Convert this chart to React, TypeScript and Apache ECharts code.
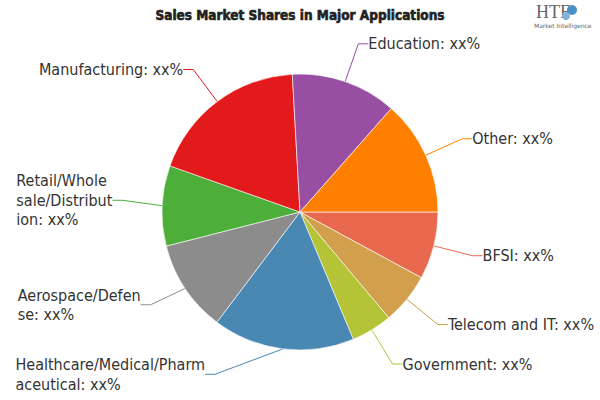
import React, { useEffect, useRef } from "react";
import * as echarts from "echarts";

const categories = [
  "BFSI",
  "Telecom and IT",
  "Government",
  "Healthcare/Medical/Pharmaceutical",
  "Aerospace/Defense",
  "Retail/Wholesale/Distribution",
  "Manufacturing",
  "Education",
  "Other",
];
const shares = [7.9, 6.0, 4.8, 16.6, 10.75, 9.4, 18.7, 12.4, 13.5];
const labelTexts = [
  "BFSI: xx%",
  "Telecom and IT: xx%",
  "Government: xx%",
  "Healthcare/Medical/Pharm\naceutical: xx%",
  "Aerospace/Defen\nse: xx%",
  "Retail/Whole\nsale/Distribut\nion: xx%",
  "Manufacturing: xx%",
  "Education: xx%",
  "Other: xx%",
];
const colors = [
  "#e8694d",
  "#d2a04c",
  "#b5c436",
  "#4a88b4",
  "#8c8c8c",
  "#4daf3a",
  "#e31a1c",
  "#984ea3",
  "#ff7f00",
];
const titleText = "Sales Market Shares in Major Applications";

const labelFont = "'DejaVu Sans Condensed', 'DejaVu Sans', sans-serif";

const CX = 300;
const CY = 212;
const R = 138;
const LEN = 40;
const LEN2 = 10;
const BOTTOM_LIMIT = 392;

export default function App() {
  const ref = useRef<HTMLDivElement>(null);
  useEffect(() => {
    if (!ref.current) return;
    const chart = echarts.init(ref.current, undefined, { renderer: "svg" });
    chart.setOption({
      animation: false,
      backgroundColor: "#ffffff",
      title: {
        text: titleText,
        left: "center",
        top: 3,
        textStyle: {
          fontSize: 13.5,
          fontWeight: "bold",
          fontFamily: "'DejaVu Sans Condensed', sans-serif",
          color: "#222",
          textBorderColor: "#222",
          textBorderWidth: 0.6,
        },
      },
      graphic: [
        {
          type: "text",
          left: 536,
          top: 3,
          style: { text: "HTF", font: "18px 'Liberation Serif', serif", fill: "#666" },
        },
        {
          type: "circle",
          shape: { cx: 572, cy: 10, r: 5 },
          style: { fill: "#4a8fc8" },
        },
        {
          type: "circle",
          shape: { cx: 566, cy: 16, r: 4 },
          style: { fill: "#7fb4dd" },
        },
        {
          type: "text",
          left: 534,
          top: 22,
          style: { text: "Market Intelligence", font: "6px 'DejaVu Sans', sans-serif", fill: "#666" },
        },
      ],
      series: [
        {
          type: "pie",
          center: [CX, CY],
          radius: R,
          startAngle: 0,
          clockwise: true,
          avoidLabelOverlap: true,
          itemStyle: { borderColor: "rgba(255,255,255,0.6)", borderWidth: 1 },
          label: {
            show: true,
            position: "outside",
            bleedMargin: 0,
            distanceToLabelLine: 0,
            color: "#333",
            fontSize: 16,
            fontFamily: labelFont,
            formatter: (p: any) =>
              labelTexts[p.dataIndex]
                .split("\n")
                .map((l) => `{t|${l}}`)
                .join("\n"),
            rich: {
              t: {
                align: "left",
                color: "#333",
                fontSize: 16,
                fontFamily: labelFont,
                lineHeight: 19.5,
              },
            },
          },
          labelLine: { show: true, length: LEN, length2: LEN2, lineStyle: { width: 1 } },
          labelLayout: (p: any) => {
            const rect = p.labelRect;
            if (!rect) return {};
            if (rect.y + rect.height > BOTTOM_LIMIT) {
              const y = BOTTOM_LIMIT - rect.height / 2;
              const dy = Math.abs(y - CY);
              const rr = R + LEN + LEN2;
              const dx = Math.sqrt(Math.max(rr * rr - dy * dy, 0));
              const left = rect.x + rect.width / 2 < CX;
              return {
                x: left ? CX - dx : CX + dx,
                y,
                align: left ? "right" : "left",
                verticalAlign: "middle",
              };
            }
            return {};
          },
          data: categories.map((c, i) => ({
            name: c,
            value: shares[i],
            itemStyle: { color: colors[i] },
          })),
        },
      ],
    });
    return () => chart.dispose();
  }, []);
  return (
    <div
      ref={ref}
      style={{ position: "fixed", left: 0, top: 0, width: 600, height: 400 }}
    />
  );
}
